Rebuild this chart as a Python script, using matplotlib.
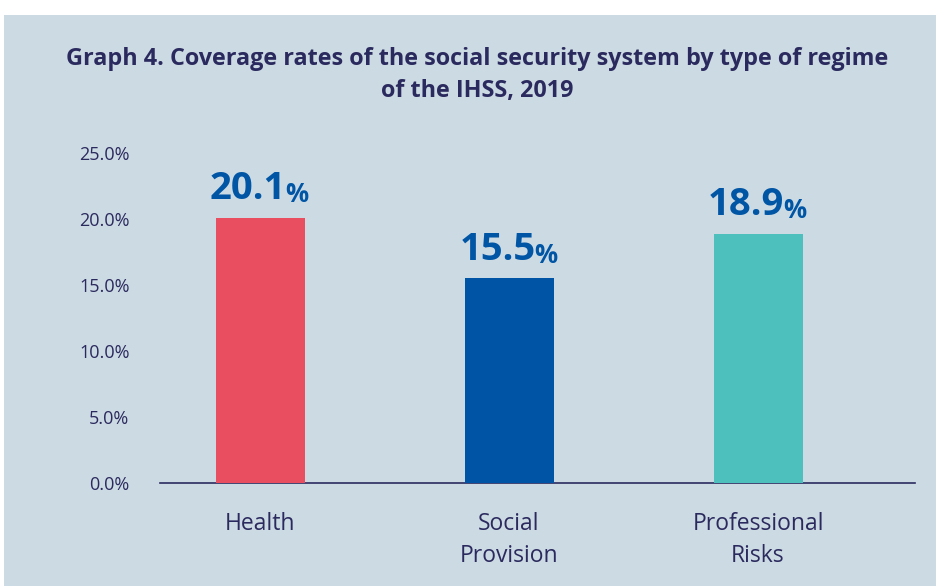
import matplotlib
matplotlib.use("Agg")
import matplotlib.pyplot as plt
from matplotlib.patches import Rectangle

categories = ["Health", "Social\nProvision", "Professional\nRisks"]
values = [20.1, 15.5, 18.9]
bar_colors = ["#E94E60", "#0054A6", "#4DBFBD"]
yticks = [0, 5, 10, 15, 20, 25]
title = "Graph 4. Coverage rates of the social security system by type of regime\nof the IHSS, 2019"

FONT = ["Open Sans", "Noto Sans", "DejaVu Sans"]
NAVY = "#2B2A5E"
BG = "#CCDAE3"
LBL = "#0055A5"

plt.rcParams['font.family'] = FONT

fig = plt.figure(figsize=(9.36, 5.86), dpi=100)
fig.patch.set_facecolor("white")
fig.add_artist(Rectangle((4/936, 0), 1, 571/586, transform=fig.transFigure,
                         facecolor=BG, edgecolor="none", zorder=0))

ax = fig.add_axes([160/936, (586-483)/586, (915-160)/936, (483-153)/586])
ax.set_facecolor("none")
x = list(range(len(categories)))
ax.bar(x, values, width=89/249, color=bar_colors, zorder=3)
ax.set_xlim(-100/249, 2 + 157/249)
ax.set_ylim(0, 25)

for s in ["top", "right", "left"]:
    ax.spines[s].set_visible(False)
ax.spines["bottom"].set_color(NAVY)
ax.spines["bottom"].set_linewidth(1.2)
ax.spines["bottom"].set_zorder(2)

ax.set_yticks(yticks)
ax.set_yticklabels([f"{t:.1f}%" for t in yticks], fontsize=13, color=NAVY)
ax.tick_params(axis="y", length=0, pad=22)
ax.set_xticks(x)
ax.set_xticklabels(categories, fontsize=16.5, color=NAVY, linespacing=1.42)
ax.tick_params(axis="x", length=0, pad=21)

for xi, v in zip(x, values):
    t = ax.annotate(f"{v:.1f}", xy=(xi, v), xytext=(19, 13.5), textcoords="offset points",
                    ha="right", va="baseline", fontsize=27.5, fontweight="bold", color=LBL)
    ax.annotate("%", xy=(1, 0), xycoords=t, xytext=(-1, 0), textcoords="offset points",
                ha="left", va="bottom", fontsize=18.5, fontweight="bold", color=LBL)

fig.text(477/936, 1 - 75/586, title, ha="center", va="center", fontsize=16.8,
         fontweight="bold", color=NAVY, linespacing=1.4)

fig.savefig("out.png", dpi=100, facecolor=fig.get_facecolor())
